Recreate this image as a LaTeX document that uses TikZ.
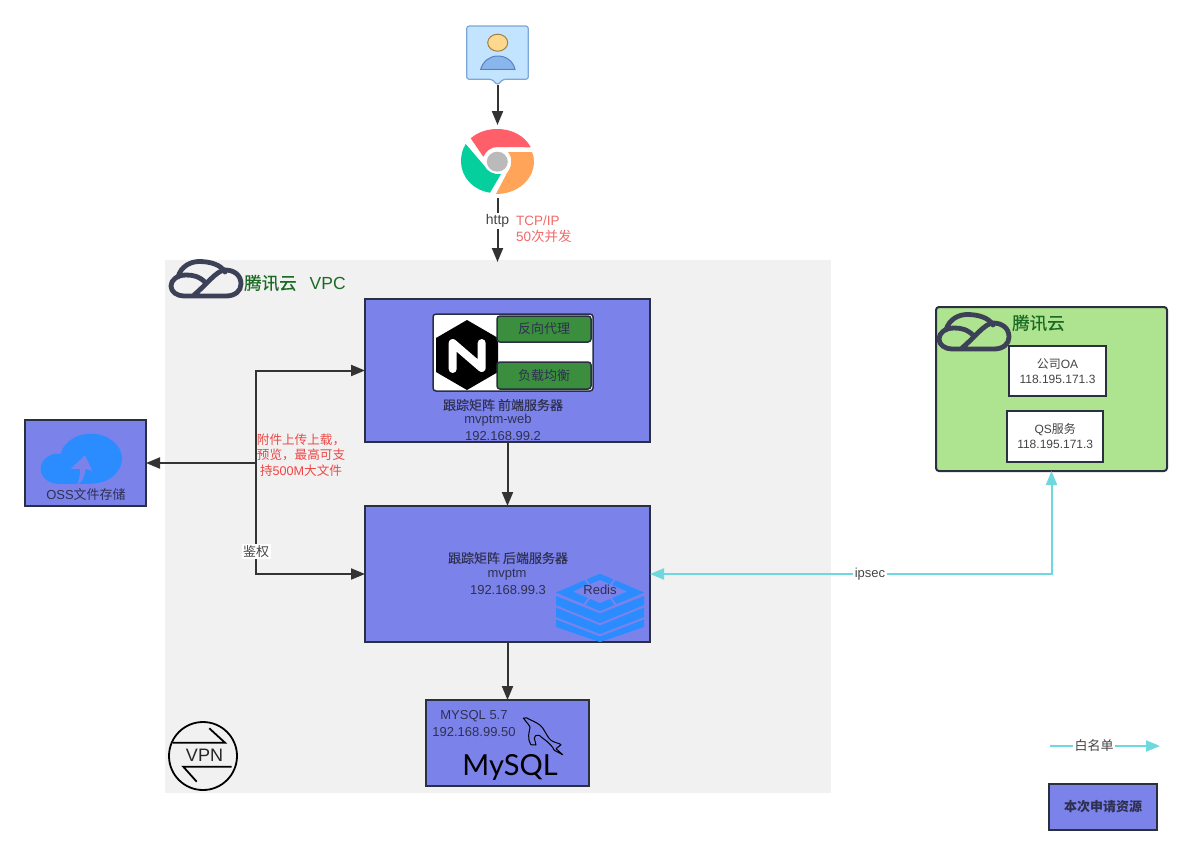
\documentclass[tikz,border=0pt]{standalone}
\usepackage{fontspec}
\setmainfont{Liberation Sans}
\newfontfamily\cjk{Noto Sans CJK SC}
\newfontfamily\cjkmed[FakeBold=0.35]{Noto Sans CJK SC}
\newfontfamily\logofont{Lato}
\newcommand{\zh}[1]{{\cjk #1}}
\newcommand{\zhm}[1]{{\cjkmed #1}}
\usetikzlibrary{arrows.meta}
\definecolor{svrblue}{HTML}{7B83EB}
\definecolor{edgedark}{HTML}{2A3040}
\definecolor{flowgray}{HTML}{333333}
\definecolor{vpcgray}{HTML}{F1F1F1}
\definecolor{tealline}{HTML}{6DD8DE}
\definecolor{iconblue}{HTML}{2A8CFF}
\definecolor{cloudink}{HTML}{3D4158}
\definecolor{cloudgreen}{HTML}{1B6B24}
\definecolor{tencentfill}{HTML}{AEE38F}
\definecolor{taggreen}{HTML}{3A8E3E}
\definecolor{txtdark}{HTML}{2F3050}
\definecolor{txtgray}{HTML}{444444}
\definecolor{txtred}{HTML}{F04545}
\definecolor{txtsalmon}{HTML}{F06A6A}
\definecolor{userfill}{HTML}{C2E4FF}
\definecolor{useredge}{HTML}{7EA6D8}
\definecolor{userbody}{HTML}{8AB6EE}
\definecolor{userbodyedge}{HTML}{5B80C0}
\definecolor{userhead}{HTML}{FFD88F}
\definecolor{userheadedge}{HTML}{A08040}
\definecolor{chromered}{HTML}{FF5F68}
\definecolor{chromegreen}{HTML}{05CF9C}
\definecolor{chromeorange}{HTML}{FFA459}
\tikzset{
	server/.style={draw=edgedark,line width=2pt,fill=svrblue,outer sep=0pt,inner sep=0pt},
	whitebox/.style={draw=edgedark,line width=2pt,fill=white,outer sep=0pt,inner sep=0pt,align=center,text=txtgray,font=\fontsize{12}{15}\selectfont},
	tagbox/.style={draw=edgedark,line width=1.5pt,fill=taggreen,rounded corners=3pt,outer sep=0pt,text=txtdark,font=\cjk\fontsize{13}{15}\selectfont},
	txt/.style={inner sep=0pt,text=txtdark,align=center},
	icon/.style={inner sep=0pt,outer sep=0pt},
	flow/.style={draw=flowgray,line width=2pt,-{Triangle[width=11pt,length=14pt]}},
	teal/.style={draw=tealline,line width=2pt},
	lbl/.style={fill=white,inner sep=1.5pt,text=txtgray},
	pics/cloudlogo/.style={code={
		\draw[cloudink,line width=4.8pt,line cap=round] (9,17) .. controls (12,6) and (22,1.5) .. (30,1.5) .. controls (42,1.5) and (52,5) .. (56,12);
		\draw[cloudink,line width=4.8pt,line cap=round,line join=round] (37,23) .. controls (30,16) and (24,15) .. (17,15) .. controls (8,15) and (2,20) .. (2,26) .. controls (2,32) and (8,36) .. (15,36) -- (57,36) .. controls (66,36) and (72,31) .. (72,24) .. controls (72,15) and (65,10) .. (56,10) .. controls (48,10) and (36,26) .. (25,35);
	}}
}
\begin{document}
\begin{tikzpicture}[x=1pt,y=-1pt,every node/.style={font=\fontsize{13}{15}\selectfont}]
	\useasboundingbox (0,0) rectangle (1191,855);
	\fill[white] (0,0) rectangle (1191,855);

	%vpc area
	\fill[vpcgray] (165,260) rectangle (831,793);
	\pic at (169,260) {cloudlogo};
	\node[inner sep=0pt,anchor=west,text=cloudgreen,font=\fontsize{17.5}{19}\selectfont] (vpcname) at (244,283) {\zhm{腾讯云}\hspace{13pt}VPC};

	%user and browser
	\node[icon,minimum width=61pt,minimum height=59pt] (user) at (497.5,55.5) {};
	\draw[draw=useredge,fill=userfill,line width=1.2pt,rounded corners=2.5pt] (466.7,26) -- (528.3,26) -- (528.3,79.3) -- (503,79.3) -- (497.5,85) -- (492,79.3) -- (466.7,79.3) -- cycle;
	\draw[fill=userhead,draw=userheadedge,line width=1pt] (497.7,42.7) ellipse (10 and 8.5);
	\draw[fill=userbody,draw=userbodyedge,line width=1pt] (480.7,69.3) .. controls (483,61) and (490,56) .. (497.8,56) .. controls (506,56) and (513,61) .. (515,69.3) -- cycle;

	\node[icon,minimum width=73pt,minimum height=73pt] (chrome) at (497.5,161.5) {};
	\fill[chromered] (470.7,138.3) .. controls (478,132) and (487,129) .. (497.5,129) .. controls (512,129) and (525,136) .. (530.7,147.3) -- (497.5,147) .. controls (491,147) and (486,151) .. (483.3,156.7) -- cycle;
	\fill[chromegreen] (465.7,144) .. controls (462.5,149) and (461,155) .. (461,161.5) .. controls (461,177) and (473,190) .. (490,192.7) -- (501,174) .. controls (493,175) and (487,171) .. (484.5,166) -- cycle;
	\fill[chromeorange] (508,152) -- (532,152) .. controls (533.5,155) and (534,158) .. (534,161.5) .. controls (534,179) and (518,194) .. (496,194) -- (507,173) .. controls (512,167) and (513,158) .. (508,152) -- cycle;
	\fill[black!27] (497.3,161.7) ellipse (10.5 and 10);

	\coordinate (vpctop) at (497.5,262);
	\draw[flow] (user) -- (chrome);
	\draw[flow] (chrome) -- node[pos=.36,lbl,font=\fontsize{14}{16}\selectfont] (httplbl) {http} (vpctop);
	\node[inner sep=0pt,anchor=west,align=left,text=txtsalmon,font=\fontsize{13.5}{16}\selectfont] (tcplbl) at (516,229) {TCP/IP\\50\zh{次并发}};

	%front end
	\node[server,minimum width=285pt,minimum height=143pt] (frontend) at (507.5,370.5) {};
	\node[draw=edgedark,line width=1.5pt,fill=white,rounded corners=3pt,outer sep=0pt,inner sep=0pt,minimum width=160pt,minimum height=77pt] (nginxbox) at (513,352.5) {};
	\fill[black] (467,320) -- (498,338) -- (498,372) -- (467,390) -- (436,372) -- (436,338) -- cycle;
	\draw[white,line width=8pt,line cap=round,line join=round] (452.7,369) -- (452.7,343) -- (481.7,368) -- (481.7,343);
	\node[tagbox,minimum width=94pt,minimum height=26pt] (proxy) at (544,329) {反向代理};
	\node[tagbox,minimum width=94pt,minimum height=27pt] (balance) at (544,375.5) {负载均衡};
	\node[txt] (fronttxt1) at (503,405) {\zhm{跟踪矩阵 前端服务器}};
	\node[txt] (fronttxt2) at (498,420) {mvptm-web};
	\node[txt] (fronttxt3) at (503,436) {192.168.99.2};

	%back end
	\node[server,minimum width=285pt,minimum height=136pt] (backend) at (507.5,574) {};
	\fill[iconblue] (556,592.5) -- (600,573.7) -- (644,592.5) -- (600,611) -- cycle;
	\fill[svrblue] (573,591.5) -- (600,580) -- (627,591.5) -- (600,603) -- cycle;
	\draw[svrblue,line width=2pt] (582,575) -- (590,586);
	\draw[svrblue,line width=2pt] (618,575) -- (610,586);
	\draw[svrblue,line width=2pt] (582,608) -- (590,597);
	\draw[svrblue,line width=2pt] (618,608) -- (610,597);
	\fill[iconblue] (556,596) -- (600,613.5) -- (644,596) -- (644,605) -- (600,623) -- (556,605) -- cycle;
	\fill[iconblue] (556,607.5) -- (600,625.5) -- (644,607.5) -- (644,617) -- (600,634) -- (556,617) -- cycle;
	\fill[iconblue] (556,619.5) -- (600,636.5) -- (644,619.5) -- (644,627) -- (600,642) -- (556,627) -- cycle;
	\node[txt] (backtxt1) at (508,558) {\zhm{跟踪矩阵 后端服务器}};
	\node[txt] (backtxt2) at (507,575) {mvptm};
	\node[txt] (backtxt3) at (508,590) {192.168.99.3};
	\node[txt] (redislbl) at (600,590) {Redis};

	%database
	\node[server,minimum width=163pt,minimum height=86pt] (mysqlbox) at (507.5,743) {};
	\node[txt] (mysqltxt1) at (474,716) {MYSQL 5.7};
	\node[txt] (mysqltxt2) at (474,732) {192.168.99.50};
	\node[inner sep=0pt,font=\logofont\fontsize{29}{31}\selectfont] (mysqlword) at (510,767.5) {MySQL};
	\draw[black,line width=1pt,line join=round] (523.3,718) .. controls (526,717.5) and (528,718) .. (529.3,719.3) .. controls (535,722) and (540,724) .. (542.7,728) .. controls (546,733) and (548,738) .. (551,740.3) .. controls (555,743) and (559,743) .. (561,744.7) -- (556,748.7) -- (562.7,754.7) -- (554.3,750.3) .. controls (552,746) and (550,744) .. (547.7,742) .. controls (544,739) and (541,737) .. (539.3,735.3) .. controls (536,735) and (534,736) .. (534.3,738) -- (536,745) -- (531,744.7) .. controls (529,741) and (528,738) .. (528.7,735.3) .. controls (529,731) and (530,729) .. (530,727) .. controls (528,723) and (525,721) .. (523.3,718) -- cycle;

	%vpn
	\draw[black,line width=1.8pt] (203,756) circle (34);
	\draw[black,line width=1.8pt] (172.7,742.7) -- (225,742.7) -- (209.3,728.3);
	\draw[black,line width=1.8pt] (231.7,766.7) -- (183.3,766.7) -- (196.7,781.7);
	\node[inner sep=0pt,text=black!85,font=\fontsize{18}{20}\selectfont] (vpnlbl) at (204.5,755) {VPN};

	%oss
	\node[server,minimum width=121pt,minimum height=86pt] (ossbox) at (85.5,463) {};
	\fill[iconblue] (91,458.7) ellipse (31 and 25);
	\fill[iconblue] (57.7,468.7) ellipse (17 and 15);
	\fill[iconblue] (57,483.5) rectangle (91,470);
	\fill[svrblue] (70.7,468.7) -- (85,455.3) -- (92.3,470.7) -- (85.5,469) .. controls (85,475) and (83,481) .. (78,484.5) -- (77,484.5) .. controls (80,479) and (80,473) .. (80,469) -- cycle;
	\node[txt] (osslbl) at (86,495) {OSS\zh{文件存储}};

	%tencent cloud
	\node[server,fill=tencentfill,rounded corners=3pt,minimum width=231pt,minimum height=164pt] (tencentbox) at (1051.5,389) {};
	\pic at (937,313) {cloudlogo};
	\node[inner sep=0pt,anchor=west,text=cloudgreen,font=\fontsize{17.5}{19}\selectfont] (tencentname) at (1012,323) {\zhm{腾讯云}};
	\node[whitebox,minimum width=97pt,minimum height=50pt] (oabox) at (1057.5,371) {\zh{公司}OA\\118.195.171.3};
	\node[whitebox,minimum width=96.5pt,minimum height=51pt] (qsbox) at (1055.2,436.5) {QS\zh{服务}\\118.195.171.3};

	%legend
	\coordinate (legendstart) at (1050,746);
	\coordinate (legendend) at (1160,746);
	\draw[teal,-{Triangle[width=11pt,length=14pt]}] (legendstart) -- node[pos=.4,lbl] (legendlbl) {\zh{白名单}} (legendend);
	\node[server,minimum width=108pt,minimum height=46pt,text=txtdark] (legendbox) at (1103,807) {\cjk\bfseries 本次申请资源};

	%edges
	\coordinate (split) at (256,463);
	\draw[flow] (split) -- (ossbox);
	\draw[flow] (split) |- (frontend);
	\draw[flow] (split) |- node[pos=.40,lbl] (authlbl) {\zh{鉴权}} (backend);
	\draw[flow] (frontend) -- (backend);
	\draw[flow] (backend) -- (mysqlbox);
	\draw[teal,{Triangle[width=11pt,length=14pt]}-{Triangle[width=11pt,length=14pt]}] (backend) -| node[pos=.274,lbl] (ipseclbl) {ipsec} (tencentbox);
	\node[inner sep=0pt,align=center,text=txtred,font=\fontsize{12.6}{15.5}\selectfont] (uploadlbl) at (301,455) {\zh{附件上传上载，}\\\zh{预览，最高可支}\\\zh{持}500M\zh{大文件}};
\end{tikzpicture}
\end{document}
